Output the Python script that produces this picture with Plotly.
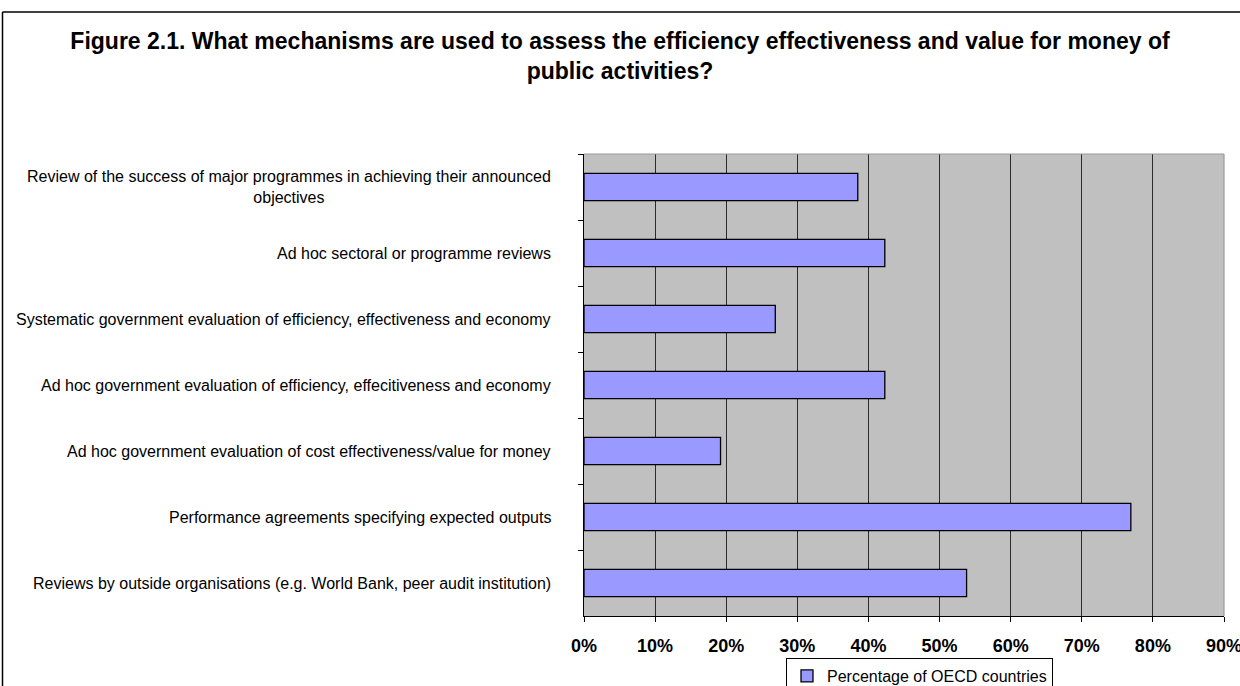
import plotly.graph_objects as go

# Survey mechanisms (top to bottom) and share of OECD countries using each
mechanisms = [
    "Review of the success of major programmes in achieving their announced<br>objectives",
    "Ad hoc sectoral or programme reviews",
    "Systematic government evaluation of efficiency, effectiveness and economy",
    "Ad hoc government evaluation of efficiency, effecitiveness and economy",
    "Ad hoc government evaluation of cost effectiveness/value for money",
    "Performance agreements specifying expected outputs",
    "Reviews by outside organisations (e.g. World Bank, peer audit institution)",
]
share_pct = [38.5, 42.3, 26.9, 42.3, 19.2, 76.9, 53.8]
x_ticks = [0, 10, 20, 30, 40, 50, 60, 70, 80, 90]
x_tick_labels = [f"{t}%" for t in x_ticks]
series_name = "Percentage of OECD countries"
title_text = ("Figure 2.1. What mechanisms are used to assess the efficiency effectiveness "
              "and value for money of<br>public activities?")

W, H = 1240, 686
L, R, T, B = 584, 16, 154, 70
plot_w, plot_h = W - L - R, H - T - B

FONT = "Liberation Sans, Arial, sans-serif"

fig = go.Figure()
fig.add_trace(go.Bar(
    x=share_pct,
    y=mechanisms,
    orientation="h",
    name=series_name,
    marker=dict(color="#9999FF", line=dict(color="#000000", width=1.3)),
    showlegend=True,
))

# Category labels drawn as centred text blocks to the left of the axis
label_right_px = 553
for m in mechanisms:
    fig.add_annotation(
        x=(label_right_px - L) / plot_w, xref="paper",
        y=m, yref="y",
        text=m, showarrow=False,
        xanchor="right", yanchor="middle", align="center",
        font=dict(family=FONT, size=16, color="#000000"),
    )

def px_x(p):
    return (p - L) / plot_w

def px_y(p):
    return (H - B - p) / plot_h

# Outer chart frame (top and left edges)
frame = dict(color="#000000", width=1.5)
fig.add_shape(type="line", xref="paper", yref="paper",
              x0=px_x(2.5), x1=px_x(W + 5), y0=px_y(12), y1=px_y(12), line=frame)
fig.add_shape(type="line", xref="paper", yref="paper",
              x0=px_x(2.5), x1=px_x(2.5), y0=px_y(12), y1=px_y(H + 5), line=frame)
# Light plot-area border on the top and right
border = dict(color="#9a9a9a", width=1.2)
fig.add_shape(type="line", xref="paper", yref="paper",
              x0=0, x1=1, y0=1, y1=1, line=border, layer="above")
fig.add_shape(type="line", xref="paper", yref="paper",
              x0=1, x1=1, y0=0, y1=1, line=border, layer="above")

fig.update_layout(
    width=W, height=H,
    margin=dict(l=L, r=R, t=T, b=B, autoexpand=False),
    paper_bgcolor="#FFFFFF",
    plot_bgcolor="#C0C0C0",
    bargap=0.59,
    font=dict(family=FONT, color="#000000"),
    title=dict(
        text=title_text,
        x=0.5, xref="container", xanchor="center",
        y=1 - 49 / H, yref="container", yanchor="top",
        font=dict(family=FONT, size=23, color="#000000", weight="bold"),
    ),
    xaxis=dict(
        range=[0, 90],
        tickmode="array", tickvals=x_ticks, ticktext=x_tick_labels,
        tickfont=dict(family=FONT, size=18, color="#000000", weight="bold"),
        showgrid=True, gridcolor="#2b2b2b", gridwidth=1.3,
        zeroline=False,
        showline=True, linecolor="#000000", linewidth=1.3,
        ticks="outside", ticklen=5, tickcolor="#000000", tickwidth=1.3,
        ticklabelstandoff=8,
        ticklabeloverflow="allow",
        fixedrange=True,
    ),
    yaxis=dict(
        autorange="reversed",
        showticklabels=False,
        showgrid=False, zeroline=False,
        showline=True, linecolor="#000000", linewidth=1.3,
        ticks="outside", ticklen=5, tickcolor="#000000", tickwidth=1.3,
        tickson="boundaries",
        fixedrange=True,
    ),
    legend=dict(
        x=px_x(786), y=px_y(658), xanchor="left", yanchor="top",
        orientation="h",
        bordercolor="#000000", borderwidth=1,
        bgcolor="#FFFFFF",
        font=dict(family=FONT, size=16, color="#000000"),
        itemwidth=30,
    ),
)

fig.write_html("out.html")
